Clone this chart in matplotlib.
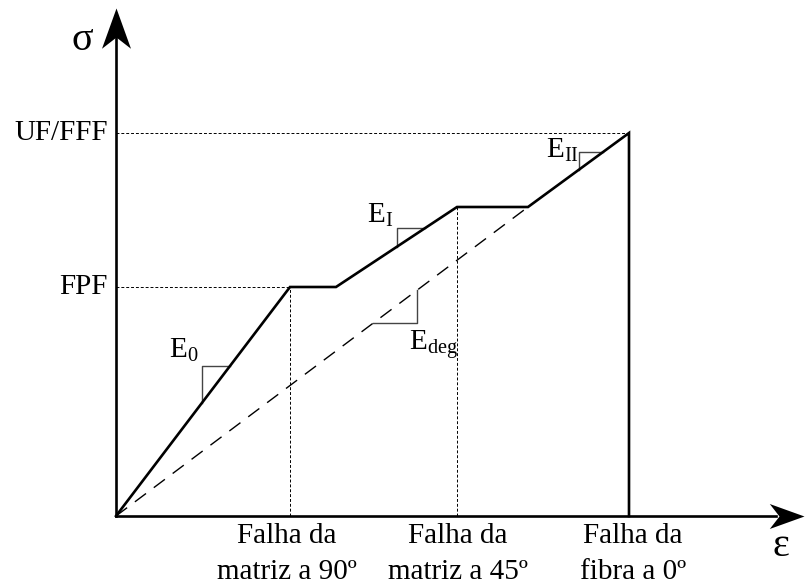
import numpy as np
import matplotlib.pyplot as plt
from matplotlib.path import Path

plt.rcParams['font.family'] = ['Liberation Serif', 'DejaVu Serif']
plt.rcParams['mathtext.fontset'] = 'custom'
plt.rcParams['mathtext.rm'] = 'Liberation Serif'
plt.rcParams['mathtext.it'] = 'Liberation Serif:italic'

# curva tensao x deformacao (unidades arbitrarias)
strain = [0, 1.74, 2.20, 3.41, 4.12, 5.13, 5.13]
stress = [0, 2.29, 2.29, 3.09, 3.09, 3.83, 0]

# modulo degradado: da origem ate o fim do patamar da falha a 45
deg_strain = [0, 4.12]
deg_stress = [0, 3.09]

y_labels = ["UF/FFF", "FPF"]
y_levels = [3.83, 2.29]

x_marks = [1.74, 3.41]        # falhas das matrizes (linhas tracejadas)
x_top = [2.29, 3.09]
x_label_pos = [1.71, 3.42, 5.17]
x_label_l1 = ["Falha da", "Falha da", "Falha da"]
x_label_l2 = ["matriz a 90º", "matriz a 45º", "fibra a 0º"]

fs = 21


def seg_y(x0, y0, x1, y1, x):
    return y0 + (y1 - y0) * (x - x0) / (x1 - x0)


def slope_tri(ax, p0, p1, xa, dx, upper=True):
    """ small slope triangle on segment p0-p1 """
    ya = seg_y(p0[0], p0[1], p1[0], p1[1], xa)
    yb = seg_y(p0[0], p0[1], p1[0], p1[1], xa + dx)
    if upper:
        xs = [xa, xa, xa + dx]
        ys = [ya, yb, yb]
    else:
        xs = [xa, xa + dx, xa + dx]
        ys = [ya, ya, yb]
    ax.plot(xs, ys, color='#444444', lw=1.0, zorder=2)


fig = plt.figure(figsize=(8.05, 5.87), dpi=100)
ax = fig.add_axes([0, 0, 1, 1])
ax.set_xlim(-1.16, 6.89)
ax.set_ylim(-0.71, 5.16)
ax.axis('off')

# eixos com setas
head = Path([(0, 0), (-1, 0.36), (-0.72, 0), (-1, -0.36), (0, 0)],
            [Path.MOVETO, Path.LINETO, Path.LINETO, Path.LINETO, Path.CLOSEPOLY])
head_up = Path([(0, 0), (0.36, -1), (0, -0.72), (-0.36, -1), (0, 0)],
               [Path.MOVETO, Path.LINETO, Path.LINETO, Path.LINETO, Path.CLOSEPOLY])
ax.plot([0, 6.6], [0, 0], color='black', lw=1.9, zorder=3)
ax.plot([0, 0], [0, 4.8], color='black', lw=1.9, zorder=3)
ax.plot([6.88], [0], marker=head, ms=50, color='black', mew=0, zorder=4)
ax.plot([0], [5.08], marker=head_up, ms=58, color='black', mew=0, zorder=4)

# linhas de referencia
for lab, lev in zip(y_labels, y_levels):
    i = stress.index(lev)
    ax.plot([0, strain[i]], [lev, lev], color='black', lw=0.7, ls=(0, (3, 2)), zorder=1)
    ax.text(-0.08, lev, lab, ha='right', va='center', fontsize=fs)
for xm, yt in zip(x_marks, x_top):
    ax.plot([xm, xm], [0, yt], color='black', lw=0.7, ls=(0, (3, 2)), zorder=1)

# modulo degradado
ax.plot(deg_strain, deg_stress, color='black', lw=1.0, ls=(0, (10, 7)), zorder=1)

# curva
ax.plot(strain, stress, color='black', lw=1.9, zorder=3, solid_joinstyle='miter')

# triangulos de inclinacao
slope_tri(ax, (strain[0], stress[0]), (strain[1], stress[1]), 0.86, 0.28)
slope_tri(ax, (strain[2], stress[2]), (strain[3], stress[3]), 2.81, 0.28)
slope_tri(ax, (strain[4], stress[4]), (strain[5], stress[5]), 4.63, 0.24)
slope_tri(ax, (deg_strain[0], deg_stress[0]), (deg_strain[1], deg_stress[1]), 2.57, 0.44, upper=False)

ax.text(0.53, 1.58, r'$\mathrm{E}_\mathrm{0}$', fontsize=fs, va='baseline')
ax.text(2.51, 2.93, r'$\mathrm{E}_\mathrm{I}$', fontsize=fs, va='baseline')
ax.text(2.93, 1.66, r'$\mathrm{E}_\mathrm{deg}$', fontsize=fs, va='baseline')
ax.text(4.30, 3.58, r'$\mathrm{E}_\mathrm{II}$', fontsize=fs, va='baseline')

# rotulos dos eixos
ax.text(-0.34, 4.75, 'σ', fontsize=29, ha='center', va='center')
ax.text(6.65, -0.31, 'ε', fontsize=29, ha='center', va='center')

for xp, l1, l2 in zip(x_label_pos, x_label_l1, x_label_l2):
    ax.text(xp, -0.27, l1, ha='center', va='baseline', fontsize=fs)
    ax.text(xp, -0.63, l2, ha='center', va='baseline', fontsize=fs)

plt.savefig('out.png', dpi=100)
